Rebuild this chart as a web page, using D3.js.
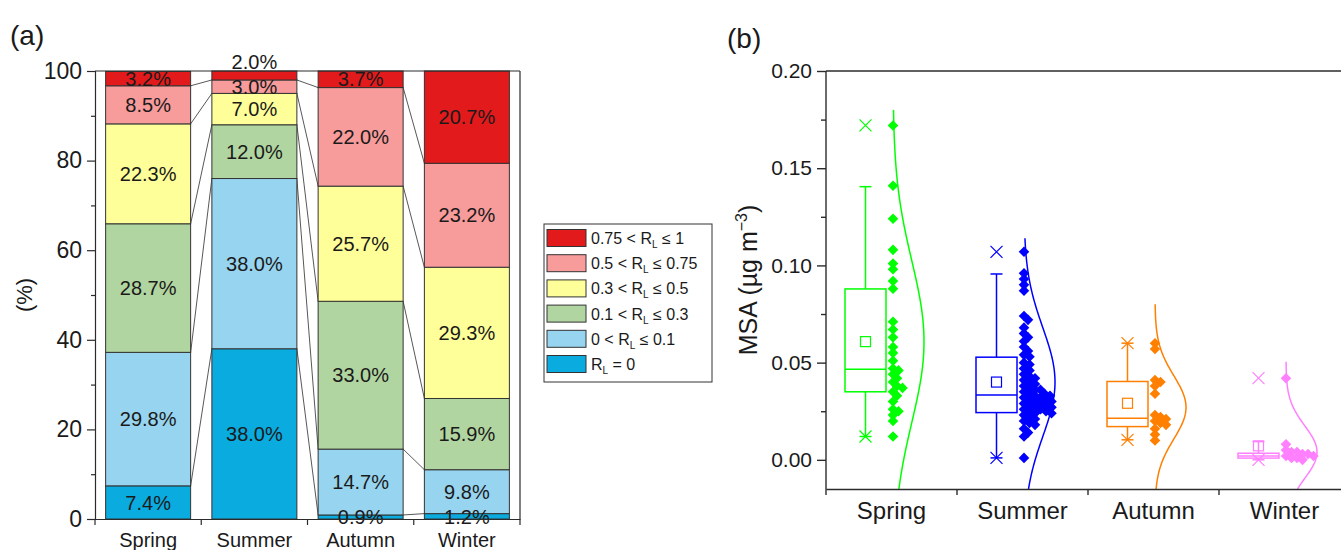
<!DOCTYPE html>
<html>
<head>
<meta charset="utf-8">
<script src="https://cdn.jsdelivr.net/npm/d3@7"></script>
<style>
  body { margin: 0; background: #fff; }
  text { font-family: "Liberation Sans", Arial, sans-serif; fill: #1a1a1a; }
</style>
</head>
<body>
<svg id="chart" width="1341" height="550"></svg>
<script>
// ---- panel (a) data: share of samples per R_L class (%), bottom to top
const seasons = ["Spring", "Summer", "Autumn", "Winter"];
const rlZero = [7.4, 38.0, 0.9, 1.2];
const rl0to01 = [29.8, 38.0, 14.7, 9.8];
const rl01to03 = [28.7, 12.0, 33.0, 15.9];
const rl03to05 = [22.3, 7.0, 25.7, 29.3];
const rl05to075 = [8.5, 3.0, 22.0, 23.2];
const rl075to1 = [3.2, 2.0, 3.7, 20.7];
const classColors = ["#0aabdf", "#97d4ef", "#b1d5a0", "#ffff99", "#f89b9b", "#e31a1c"];
// legend text: [before R_L, after R_L]
const classLabels = [["", " = 0"], ["0 < ", " \u2264 0.1"], ["0.1 < ", " \u2264 0.3"],
                     ["0.3 < ", " \u2264 0.5"], ["0.5 < ", " \u2264 0.75"], ["0.75 < ", " \u2264 1"]];
const yTicksA = [0, 20, 40, 60, 80, 100];

// ---- panel (b) data: MSA (ug m-3)
const springMSA = [0.172, 0.141, 0.124, 0.108, 0.101, 0.098, 0.092, 0.088, 0.071, 0.067, 0.063,
  0.058, 0.055, 0.051, 0.047, 0.046, 0.044, 0.042, 0.040, 0.038, 0.037, 0.035, 0.033, 0.030,
  0.026, 0.025, 0.023, 0.020, 0.012];
const summerMSA = [0.107, 0.096, 0.093, 0.090, 0.087, 0.074, 0.072, 0.068, 0.065, 0.063, 0.061,
  0.058, 0.056, 0.054, 0.053, 0.050, 0.049, 0.047, 0.046, 0.044, 0.043, 0.042, 0.041, 0.040,
  0.039, 0.038, 0.037, 0.036, 0.036, 0.035, 0.034, 0.034, 0.033, 0.033, 0.032, 0.032, 0.031,
  0.031, 0.030, 0.030, 0.029, 0.029, 0.028, 0.028, 0.027, 0.027, 0.026, 0.026, 0.025, 0.025,
  0.024, 0.024, 0.023, 0.022, 0.021, 0.020, 0.019, 0.018, 0.016, 0.014, 0.012, 0.001];
const autumnMSA = [0.060, 0.057, 0.041, 0.040, 0.038, 0.034, 0.023, 0.022, 0.021, 0.020, 0.019,
  0.018, 0.016, 0.013, 0.010];
const winterMSA = [0.042, 0.008, 0.005, 0.004, 0.004, 0.003, 0.003, 0.002, 0.002, 0.001, 0.001, 0.000];
const seasonColors = ["#00ff00", "#0000ff", "#ff7f00", "#ff80ff"];

// box statistics
const boxQ1 = [0.035, 0.0243, 0.0171, 0.0009];
const boxMedian = [0.0466, 0.0334, 0.0214, 0.002];
const boxQ3 = [0.0879, 0.0528, 0.0403, 0.0034];
const boxMean = [0.0608, 0.040, 0.0291, 0.0072];
const whiskerLo = [0.012, 0.001, 0.0103, 0.0];
const whiskerHi = [0.1405, 0.0956, 0.060, 0.0094];
const msaMax = [0.172, 0.107, 0.060, 0.042];
const msaMin = [0.012, 0.001, 0.0103, 0.0];
// normal distribution curves
const curveMean = [0.0608, 0.040, 0.027, 0.004];
const curveSD = [0.0416, 0.028, 0.0163, 0.0135];
const curveTop = [0.18, 0.114, 0.080, 0.0505];
const yTicksB = [0, 0.05, 0.10, 0.15, 0.20];

const svg = d3.select("#chart");
const axisColor = "#2b2b2b";

// ================= panel (a) =================
const stackCols = [rlZero, rl0to01, rl01to03, rl03to05, rl05to075, rl075to1];
const rows = seasons.map((s, i) => {
  const r = { season: s };
  stackCols.forEach((c, k) => r["c" + k] = c[i]);
  return r;
});
const keys = stackCols.map((c, k) => "c" + k);
const series = d3.stack().keys(keys)(rows);

const xA = d3.scaleBand().domain(seasons).range([95, 520]).paddingInner(0.2).paddingOuter(0.1);
const yA = d3.scaleLinear().domain([0, 100]).range([519, 71]);

const gA = svg.append("g");

// connecting lines between neighbouring bars
for (let i = 0; i < seasons.length - 1; i++) {
  for (let k = 0; k < keys.length - 1; k++) {
    gA.append("line")
      .attr("x1", xA(seasons[i]) + xA.bandwidth())
      .attr("y1", yA(series[k][i][1]))
      .attr("x2", xA(seasons[i + 1]))
      .attr("y2", yA(series[k][i + 1][1]))
      .attr("stroke", "#444")
      .attr("stroke-width", 0.9);
  }
}

series.forEach((ser, k) => {
  gA.selectAll(null)
    .data(ser)
    .enter().append("rect")
    .attr("x", d => xA(d.data.season))
    .attr("width", xA.bandwidth())
    .attr("y", d => yA(Math.min(d[1], 100)))
    .attr("height", d => yA(d[0]) - yA(Math.min(d[1], 100)))
    .attr("fill", classColors[k])
    .attr("stroke", "#333")
    .attr("stroke-width", 1);
});

series.forEach((ser, k) => {
  gA.selectAll(null)
    .data(ser)
    .enter().append("text")
    .attr("x", d => xA(d.data.season) + xA.bandwidth() / 2)
    .attr("y", d => {
      const v = d[1] - d[0];
      // a thin top segment gets its label above the bar
      if (k === keys.length - 1 && v < 2.5) return yA(100) - 9;
      return yA((d[0] + d[1]) / 2);
    })
    .attr("dy", "0.36em")
    .attr("text-anchor", "middle")
    .style("font-size", "20px")
    .text(d => (d[1] - d[0]).toFixed(1) + "%");
});

// frame
gA.append("line").attr("x1", 95).attr("x2", 520).attr("y1", 71).attr("y2", 71)
  .attr("stroke", axisColor).attr("stroke-width", 1.2);
gA.append("line").attr("x1", 520).attr("x2", 520).attr("y1", 71).attr("y2", 519)
  .attr("stroke", axisColor).attr("stroke-width", 1.2);

const yAxisA = gA.append("g")
  .attr("transform", "translate(95,0)")
  .call(d3.axisLeft(yA).tickValues(yTicksA).tickSize(8).tickPadding(5).tickFormat(d3.format("d")));
yAxisA.selectAll("text").style("font-size", "23px");
gA.append("g")
  .attr("transform", "translate(95,0)")
  .call(d3.axisLeft(yA).tickValues([10, 30, 50, 70, 90]).tickSize(4).tickFormat(""))
  .select(".domain").remove();

const xAxisA = gA.append("g")
  .attr("transform", "translate(0,519)")
  .call(d3.axisBottom(xA).tickSize(0).tickPadding(14));
xAxisA.selectAll("text").style("font-size", "20px");
d3.range(seasons.length + 1).forEach(i => {
  const x = xA.range()[0] + i * xA.step();
  gA.append("line").attr("x1", x).attr("x2", x).attr("y1", 519).attr("y2", 525)
    .attr("stroke", axisColor).attr("stroke-width", 1.2);
});

[yAxisA, xAxisA].forEach(a => {
  a.selectAll("path, line").attr("stroke", axisColor).attr("stroke-width", 1.2);
  a.selectAll("text").style("fill", "#1a1a1a");
});
gA.selectAll(".tick line").attr("stroke", axisColor).attr("stroke-width", 1.2);

gA.append("text")
  .attr("transform", "translate(32,295) rotate(-90)")
  .attr("text-anchor", "middle")
  .style("font-size", "22px")
  .text("(%)");
svg.append("text").attr("x", 10).attr("y", 45).style("font-size", "28px").text("(a)");

// legend
const lg = svg.append("g");
lg.append("rect").attr("x", 544).attr("y", 224).attr("width", 168).attr("height", 158)
  .attr("fill", "#fff").attr("stroke", "#333").attr("stroke-width", 1);
const legendOrder = d3.range(classLabels.length).reverse();
legendOrder.forEach((k, j) => {
  const cy = 238 + j * 25.2;
  lg.append("rect").attr("x", 547).attr("y", cy - 8.5).attr("width", 39).attr("height", 17)
    .attr("fill", classColors[k]).attr("stroke", "#333").attr("stroke-width", 1);
  const t = lg.append("text").attr("x", 591).attr("y", cy + 6).style("font-size", "16px");
  t.append("tspan").text(classLabels[k][0] + "R");
  t.append("tspan").attr("dy", 4).style("font-size", "10px").text("L");
  t.append("tspan").attr("dy", -4).text(classLabels[k][1]);
});

// ================= panel (b) =================
const xB = d3.scaleBand().domain(seasons).range([826, 1350]);
const yB = d3.scaleLinear().domain([-0.015, 0.2]).range([489, 71]);
const gB = svg.append("g");

svg.append("clipPath").attr("id", "clipB")
  .append("rect").attr("x", 826).attr("y", 60).attr("width", 520).attr("height", 429);

const msaSets = [springMSA, summerMSA, autumnMSA, winterMSA];

function swarm(vals, d) {
  const placed = [];
  return vals.slice().sort((a, b) => b - a).map(v => {
    const py = yB(v);
    let dx = 0;
    while (placed.some(p => (p[0] - dx) ** 2 + (p[1] - py) ** 2 < d * d)) dx += 0.5;
    placed.push([dx, py]);
    return [dx, py];
  });
}

seasons.forEach((s, i) => {
  const c = xB(s) + xB.bandwidth() / 2;
  const col = seasonColors[i];
  const bx = c - 26, bw = 41, base = c + 1.5;
  const g = gB.append("g").attr("stroke", col).attr("fill", "none").attr("stroke-width", 1.5);

  // whiskers
  g.append("line").attr("x1", bx).attr("x2", bx).attr("y1", yB(boxQ3[i])).attr("y2", yB(whiskerHi[i]));
  g.append("line").attr("x1", bx).attr("x2", bx).attr("y1", yB(boxQ1[i])).attr("y2", yB(whiskerLo[i]));
  [whiskerHi[i], whiskerLo[i]].forEach(v => {
    g.append("line").attr("x1", bx - 6).attr("x2", bx + 6).attr("y1", yB(v)).attr("y2", yB(v));
  });
  // box
  g.append("rect").attr("x", bx - bw / 2).attr("width", bw)
    .attr("y", yB(boxQ3[i])).attr("height", yB(boxQ1[i]) - yB(boxQ3[i])).attr("fill", "#fff");
  g.append("line").attr("x1", bx - bw / 2).attr("x2", bx + bw / 2)
    .attr("y1", yB(boxMedian[i])).attr("y2", yB(boxMedian[i]));
  // mean
  g.append("rect").attr("x", bx - 5).attr("y", yB(boxMean[i]) - 5).attr("width", 10).attr("height", 10)
    .attr("stroke-width", 1.2);
  // max / min crosses
  [msaMax[i], msaMin[i]].forEach(v => {
    const y = yB(v);
    g.append("path").attr("d", `M${bx - 6},${y - 6}L${bx + 6},${y + 6}M${bx - 6},${y + 6}L${bx + 6},${y - 6}`)
      .attr("stroke-width", 1.2);
  });

  // normal curve
  const vs = d3.range(curveTop[i], -0.0151, -0.0005);
  const line = d3.line()
    .x(v => base + 31 * Math.exp(-((v - curveMean[i]) ** 2) / (2 * curveSD[i] ** 2)))
    .y(v => yB(v));
  g.append("path").attr("d", line(vs)).attr("clip-path", "url(#clipB)");

  // data points
  gB.append("g").selectAll("path")
    .data(swarm(msaSets[i], 5.5))
    .enter().append("path")
    .attr("d", d3.symbol(d3.symbolSquare, 56))
    .attr("transform", d => `translate(${base + d[0]},${d[1]}) rotate(45)`)
    .attr("fill", col);
});

// axes / frame
gB.append("line").attr("x1", 826).attr("x2", 1341).attr("y1", 71).attr("y2", 71)
  .attr("stroke", axisColor).attr("stroke-width", 1.4);
const yAxisB = gB.append("g").attr("transform", "translate(826,0)")
  .call(d3.axisLeft(yB).tickValues(yTicksB).tickSize(9).tickPadding(5).tickFormat(d3.format(".2f")));
yAxisB.selectAll("text").style("font-size", "21px");
yAxisB.select(".domain").attr("d", "M0,71V489");
gB.append("g").attr("transform", "translate(826,0)")
  .call(d3.axisLeft(yB).tickValues([0.025, 0.075, 0.125, 0.175]).tickSize(5).tickFormat(""))
  .select(".domain").remove();
const xAxisB = gB.append("g").attr("transform", "translate(0,489)")
  .call(d3.axisBottom(xB).tickSize(0).tickPadding(13));
xAxisB.selectAll("text").style("font-size", "24px");
d3.range(seasons.length + 1).forEach(i => {
  const x = xB.range()[0] + i * xB.step();
  gB.append("line").attr("x1", x).attr("x2", x).attr("y1", 489).attr("y2", 495)
    .attr("stroke", axisColor).attr("stroke-width", 1.4);
});
gB.selectAll(".domain, .tick line").attr("stroke", axisColor).attr("stroke-width", 1.4);

const yl = gB.append("text")
  .attr("transform", "translate(757,280) rotate(-90)")
  .attr("text-anchor", "middle")
  .style("font-size", "25px");
yl.append("tspan").text("MSA (\u00b5g m");
yl.append("tspan").attr("dy", -10).style("font-size", "16px").text("\u22123");
yl.append("tspan").attr("dy", 10).text(")");
svg.append("text").attr("x", 727).attr("y", 48).style("font-size", "28px").text("(b)");
</script>
</body>
</html>
